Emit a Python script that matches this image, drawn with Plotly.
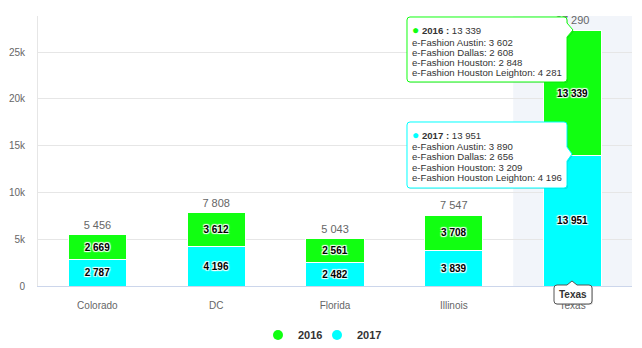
import plotly.graph_objects as go

categories = ["Colorado", "DC", "Florida", "Illinois", "Texas"]
sales_2016 = [2669, 3612, 2561, 3708, 13339]
sales_2017 = [2787, 4196, 2482, 3839, 13951]
stores = ["e-Fashion Austin", "e-Fashion Dallas", "e-Fashion Houston", "e-Fashion Houston Leighton"]
texas_2016 = [3602, 2608, 2848, 4281]
texas_2017 = [3890, 2656, 3209, 4196]
y_ticks = [0, 5000, 10000, 15000, 20000, 25000]

C16 = "#11ff11"
C17 = "#00ffff"
FONT = "Liberation Sans, Arial, sans-serif"

totals = [a + b for a, b in zip(sales_2016, sales_2017)]


def fmt(v):
    return f"{v:,}".replace(",", " ")


# plot area in pixels
L, R, T, B = 38, 632, 16, 286
W, H = R - L, B - T
FW, FH = 642, 348


def px(x):
    return (x - L) / W


def py(y):
    return (B - y) / H


def P(x, y):
    return f"{px(x):.5f},{py(y):.5f}"


def callout_right(x0, y0, x1, y1, ay0, ay1, tx, ty, r=3):
    return (f"M{P(x0 + r, y0)} L{P(x1 - r, y0)} Q{P(x1, y0)} {P(x1, y0 + r)} "
            f"L{P(x1, ay0)} L{P(tx, ty)} L{P(x1, ay1)} L{P(x1, y1 - r)} "
            f"Q{P(x1, y1)} {P(x1 - r, y1)} L{P(x0 + r, y1)} Q{P(x0, y1)} {P(x0, y1 - r)} "
            f"L{P(x0, y0 + r)} Q{P(x0, y0)} {P(x0 + r, y0)} Z")


def callout_up(x0, y0, x1, y1, tx, ty, r=3, a=5):
    return (f"M{P(x0 + r, y0)} L{P(tx - a, y0)} L{P(tx, ty)} L{P(tx + a, y0)} "
            f"L{P(x1 - r, y0)} Q{P(x1, y0)} {P(x1, y0 + r)} L{P(x1, y1 - r)} "
            f"Q{P(x1, y1)} {P(x1 - r, y1)} L{P(x0 + r, y1)} Q{P(x0, y1)} {P(x0, y1 - r)} "
            f"L{P(x0, y0 + r)} Q{P(x0, y0)} {P(x0 + r, y0)} Z")


OUTLINE = "1px 1px 1px #fff, -1px -1px 1px #fff, 1px -1px 1px #fff, -1px 1px 1px #fff"

fig = go.Figure()

fig.add_trace(go.Bar(
    x=categories, y=sales_2017, name="2017", marker=dict(color=C17, line=dict(color="white", width=1)),
    width=0.49, text=[fmt(v) for v in sales_2017], textposition="inside", insidetextanchor="middle",
    textangle=0, constraintext="none",
    textfont=dict(family=FONT, size=10, color="#000", weight=700, shadow=OUTLINE),
    showlegend=False, hoverinfo="skip"))
fig.add_trace(go.Bar(
    x=categories, y=sales_2016, name="2016", marker=dict(color=C16, line=dict(color="white", width=1)),
    width=0.49, text=[fmt(v) for v in sales_2016], textposition="inside", insidetextanchor="middle",
    textangle=0, constraintext="none",
    textfont=dict(family=FONT, size=10, color="#000", weight=700, shadow=OUTLINE),
    showlegend=False, hoverinfo="skip"))

# stack totals (invisible marker gives the label a small offset above the stack)
fig.add_trace(go.Scatter(
    x=categories, y=totals, mode="markers+text", text=[fmt(v) for v in totals], textposition="top center",
    marker=dict(size=4, color="rgba(0,0,0,0)"), cliponaxis=False,
    textfont=dict(family=FONT, size=11, color="#666666"), showlegend=False, hoverinfo="skip"))

# legend entries (circle symbols)
fig.add_trace(go.Scatter(x=[None], y=[None], mode="markers", name="2016", legendwidth=14,
                         marker=dict(symbol="circle", size=10, color=C16)))
fig.add_trace(go.Scatter(x=[None], y=[None], mode="markers", name="2017",
                         marker=dict(symbol="circle", size=10, color=C17)))

shapes = []
# hover band on Texas
tex_i = categories.index("Texas")
shapes.append(dict(type="rect", xref="x", yref="paper", x0=tex_i - 0.5, x1=tex_i + 0.5, y0=0, y1=1,
                   fillcolor="rgba(204,214,235,0.25)", line=dict(width=0), layer="below"))

# tooltips
tips = [
    dict(series="2016", color=C16, total=sales_2016[tex_i], vals=texas_2016,
         box=(407, 17, 567, 82), arrow=(23, 37, 573, 30), ytitle=29.5, ylines=[42.3, 52.5, 62.7, 72.9]),
    dict(series="2017", color=C17, total=sales_2017[tex_i], vals=texas_2017,
         box=(407, 122, 567, 188), arrow=(147, 161, 572, 154), ytitle=135, ylines=[146.7, 156.9, 167.1, 177.3]),
]
annotations = []
for t in tips:
    x0, y0, x1, y1 = t["box"]
    a0, a1, tx, ty = t["arrow"]
    shapes.append(dict(type="path", xref="paper", yref="paper",
                       path=callout_right(x0 + 1, y0 + 1, x1 + 1, y1 + 1, a0 + 1, a1 + 1, tx + 1, ty + 1),
                       fillcolor="rgba(0,0,0,0.12)", line=dict(width=0), layer="above"))
    shapes.append(dict(type="path", xref="paper", yref="paper",
                       path=callout_right(x0, y0, x1, y1, a0, a1, tx, ty),
                       fillcolor="white", line=dict(color=t["color"], width=1), layer="above"))
    annotations.append(dict(
        xref="paper", yref="paper", x=px(x0 + 3), y=py(t["ytitle"]), xanchor="left", yanchor="middle",
        showarrow=False,
        text=f"<span style='color:{t['color']};font-size:12px'>●</span> <b>{t['series']} :</b> {fmt(t['total'])}",
        font=dict(family=FONT, size=9.6, color="#333333")))
    for s, v, yl in zip(stores, t["vals"], t["ylines"]):
        annotations.append(dict(
            xref="paper", yref="paper", x=px(x0 + 3), y=py(yl), xanchor="left", yanchor="middle",
            showarrow=False, text=f"{s}: {fmt(v)}",
            font=dict(family=FONT, size=9.6, color="#333333")))

# category label tooltip
shapes.append(dict(type="path", xref="paper", yref="paper",
                   path=callout_up(555, 286, 593, 305, 573, 282),
                   fillcolor="rgba(0,0,0,0.15)", line=dict(width=0), layer="above"))
shapes.append(dict(type="path", xref="paper", yref="paper",
                   path=callout_up(554, 285, 592, 304, 572, 281),
                   fillcolor="white", line=dict(color="#555555", width=1), layer="above"))
annotations.append(dict(xref="paper", yref="paper", x=px(573), y=py(294.5), xanchor="center", yanchor="middle",
                        showarrow=False, text="<b>Texas</b>", font=dict(family=FONT, size=10, color="#333333")))

fig.update_layout(
    width=FW, height=FH, autosize=False,
    margin=dict(l=L, r=FW - R, t=T, b=FH - B, pad=0, autoexpand=False),
    paper_bgcolor="white", plot_bgcolor="white",
    barmode="stack", bargap=0.51,
    separators=". ",
    font=dict(family=FONT, size=10, color="#666666"),
    xaxis=dict(type="category", range=[-0.5, 4.5], showline=True, linecolor="#ccd6eb", linewidth=1,
               showgrid=False, ticks="", tickfont=dict(size=10, color="#666666"), ticklabelstandoff=10,
               fixedrange=True, automargin=False),
    yaxis=dict(range=[0, 28850], tickvals=y_ticks, tickformat="~s", showgrid=True, gridcolor="#e6e6e6",
               zeroline=False, showline=True, linecolor="#e6e6e6", linewidth=1, ticks="",
               tickfont=dict(size=10, color="#666666"), ticklabelstandoff=10, fixedrange=True,
               automargin=False),
    legend=dict(orientation="h", xref="container", yref="container", xanchor="left", yanchor="middle",
                x=258 / FW, y=(FH - 335) / FH, traceorder="normal",
                font=dict(family=FONT, size=11, color="#333333", weight=700),
                bgcolor="rgba(0,0,0,0)"),
    shapes=shapes,
    annotations=annotations,
)

fig.write_html("out.html")
